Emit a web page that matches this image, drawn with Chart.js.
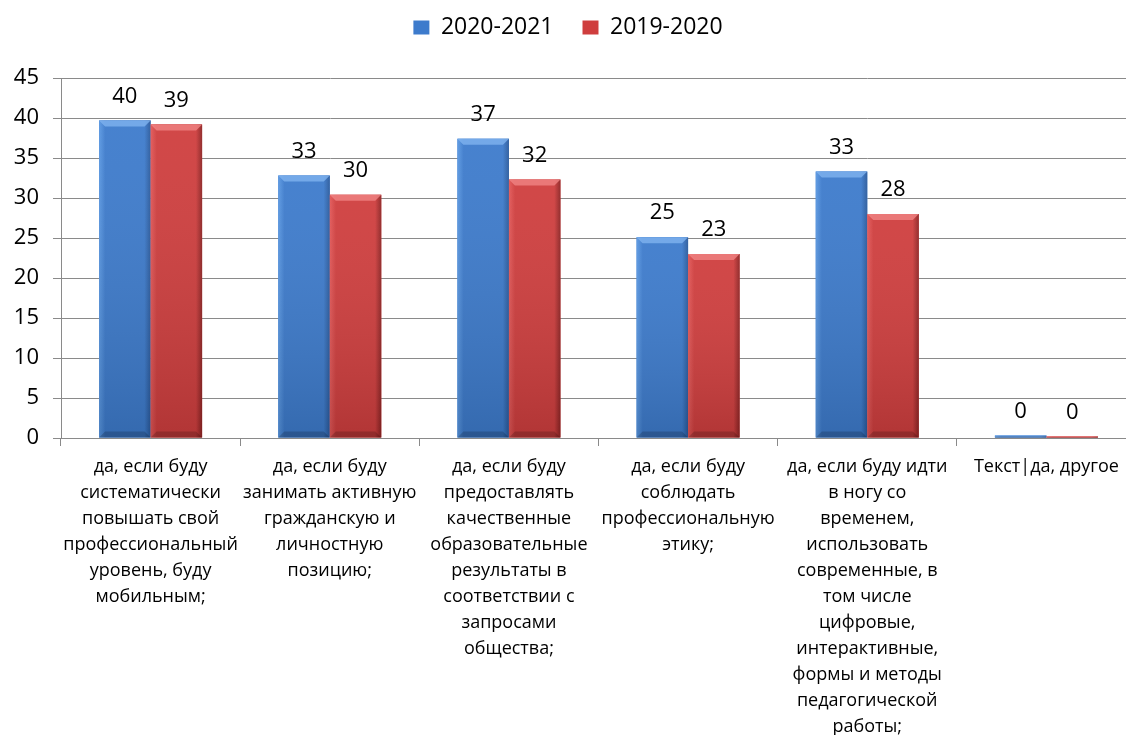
<!DOCTYPE html>
<html>
<head>
<meta charset="utf-8">
<script src="https://cdn.jsdelivr.net/npm/chart.js@4.4.1/dist/chart.umd.min.js"></script>
<style>
    body { margin: 0; overflow: hidden; background: #fff; }
    #wrap { width: 1136px; height: 735px; }
</style>
</head>
<body>
<div id="wrap"><canvas id="answersChart"></canvas></div>
<script>
// categories, one array of lines per answer
var answerLabels = [
    ["да, если буду", "систематически", "повышать свой", "профессиональный", "уровень, буду", "мобильным;"],
    ["да, если буду", "занимать активную", "гражданскую и", "личностную", "позицию;"],
    ["да, если буду", "предоставлять", "качественные", "образовательные", "результаты в", "соответствии с", "запросами", "общества;"],
    ["да, если буду", "соблюдать", "профессиональную", "этику;"],
    ["да, если буду идти", "в ногу со", "временем,", "использовать", "современные, в", "том числе", "цифровые,", "интерактивные,", "формы и методы", "педагогической", "работы;"],
    ["Текст|да, другое"]
];
var seriesNames = ["2020-2021", "2019-2020"];
var values20202021 = [39.7, 32.8, 37.4, 25.1, 33.3, 0.3];
var values20192020 = [39.2, 30.4, 32.3, 23.0, 28.0, 0.2];
var yTicksMax = 45;
var yTicksStep = 5;

var barColors = [
    { light: "#5a98e2", mid: "#3d7bcc", dark: "#2a5a9c", top: "#7fb3ef" },
    { light: "#e25858", mid: "#cf3e3e", dark: "#8e2424", top: "#f08484" }
];

var fontName = "'Open Sans', 'DejaVu Sans', sans-serif";

// keep a gap under the legend
var legendGap = {
    id: 'legendGap',
    beforeInit: function (chart) {
        var fit = chart.legend.fit;
        chart.legend.fit = function () {
            fit.bind(chart.legend)();
            this.height += 29;
        };
    }
};

// paint the bars with a shaded look, like the office chart
var bevelBars = {
    id: 'bevelBars',
    afterDatasetsDraw: function (chart) {
        var ctx = chart.ctx;
        chart.data.datasets.forEach(function (ds, di) {
            var meta = chart.getDatasetMeta(di);
            var c = barColors[di];
            meta.data.forEach(function (bar) {
                var p = bar.getProps(['x', 'y', 'base', 'width'], true);
                var left = p.x - p.width / 2;
                var right = p.x + p.width / 2;
                var h = p.base - p.y;
                if (h <= 0) return;
                ctx.save();
                var g = ctx.createLinearGradient(left, 0, right, 0);
                g.addColorStop(0, c.light);
                g.addColorStop(0.12, c.mid);
                g.addColorStop(0.88, c.mid);
                g.addColorStop(1, c.dark);
                ctx.fillStyle = g;
                ctx.fillRect(left, p.y, p.width, h);
                // darker towards the bottom
                var v = ctx.createLinearGradient(0, p.y, 0, p.base);
                v.addColorStop(0, "rgba(255,255,255,0.05)");
                v.addColorStop(1, "rgba(0,0,0,0.14)");
                ctx.fillStyle = v;
                ctx.fillRect(left, p.y, p.width, h);
                var b = Math.min(6, h / 2);
                ctx.fillStyle = c.top;
                ctx.globalAlpha = 0.8;
                ctx.beginPath();
                ctx.moveTo(left, p.y);
                ctx.lineTo(right, p.y);
                ctx.lineTo(right - b, p.y + b);
                ctx.lineTo(left + b, p.y + b);
                ctx.closePath();
                ctx.fill();
                ctx.globalAlpha = 0.18;
                ctx.fillStyle = "#000";
                ctx.beginPath();
                ctx.moveTo(left, p.base);
                ctx.lineTo(right, p.base);
                ctx.lineTo(right - b, p.base - b);
                ctx.lineTo(left + b, p.base - b);
                ctx.closePath();
                ctx.fill();
                ctx.restore();
            });
        });
    }
};

// value above every bar
var valueLabels = {
    id: 'valueLabels',
    afterDatasetsDraw: function (chart) {
        var ctx = chart.ctx;
        ctx.save();
        ctx.font = "22px " + fontName;
        ctx.fillStyle = "#000";
        ctx.textAlign = "center";
        ctx.textBaseline = "middle";
        chart.data.datasets.forEach(function (ds, di) {
            var meta = chart.getDatasetMeta(di);
            meta.data.forEach(function (bar, i) {
                var p = bar.getProps(['x', 'y'], true);
                ctx.fillText(Math.round(ds.data[i]), p.x, p.y - 24);
            });
        });
        ctx.restore();
    }
};

var answersChart = new Chart("answersChart", {
    type: "bar",
    data: {
        labels: answerLabels,
        datasets: [{
            label: seriesNames[0],
            data: values20202021,
            backgroundColor: barColors[0].mid,
            barPercentage: 1,
            categoryPercentage: 0.575
        }, {
            label: seriesNames[1],
            data: values20192020,
            backgroundColor: barColors[1].mid,
            barPercentage: 1,
            categoryPercentage: 0.575
        }]
    },
    options: {
        responsive: true,
        maintainAspectRatio: false,
        animation: false,
        layout: { padding: { top: -13, left: 0, right: 0, bottom: 0 } },
        plugins: {
            legend: {
                position: 'top',
                labels: {
                    boxWidth: 16,
                    boxHeight: 14,
                    padding: 29,
                    color: "#000",
                    font: { family: fontName, size: 23 }
                }
            },
            tooltip: { enabled: false }
        },
        scales: {
            x: {
                afterFit: function (scale) { scale.height = 297; },
                grid: {
                    offset: true,
                    drawOnChartArea: false,
                    drawTicks: true,
                    tickLength: 8,
                    color: "#8a8a8a"
                },
                border: { color: "#8a8a8a" },
                ticks: {
                    autoSkip: false,
                    maxRotation: 0,
                    minRotation: 0,
                    padding: 8,
                    color: "#000",
                    font: { family: fontName, size: 18, lineHeight: 26 / 18 }
                }
            },
            y: {
                min: 0,
                max: yTicksMax,
                afterFit: function (scale) { scale.width = 61; },
                grid: {
                    color: "#8a8a8a",
                    tickLength: 8
                },
                border: { color: "#8a8a8a" },
                ticks: {
                    stepSize: yTicksStep,
                    padding: 14,
                    color: "#000",
                    font: { family: fontName, size: 22 }
                }
            }
        }
    },
    plugins: [legendGap, bevelBars, valueLabels]
});
</script>
</body>
</html>
